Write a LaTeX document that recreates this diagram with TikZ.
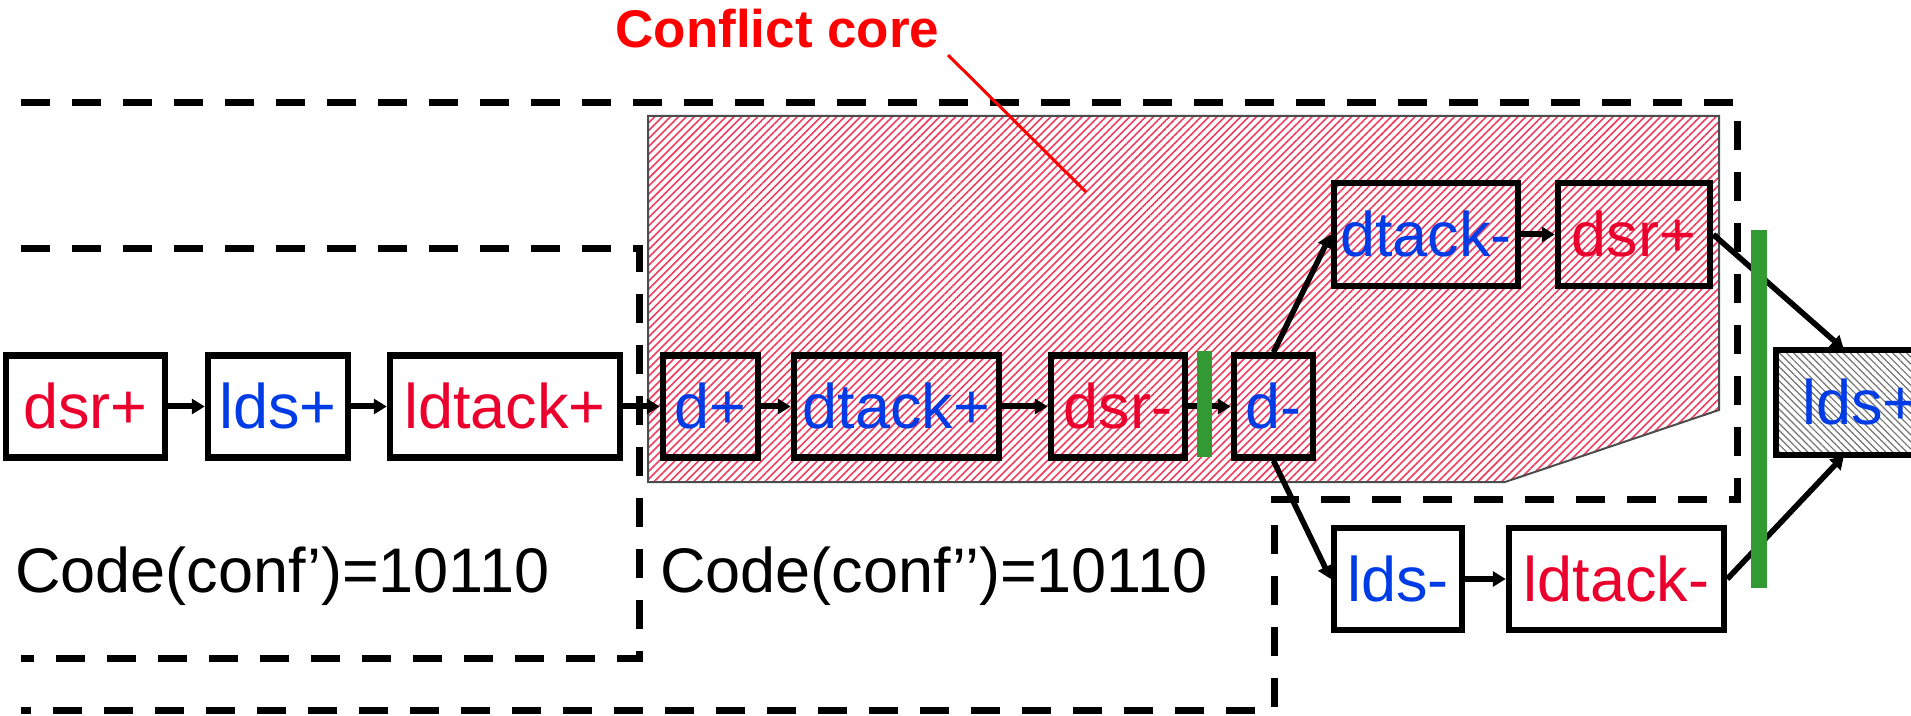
\documentclass[tikz,border=0pt]{standalone}
\usepackage{fontspec}
\setmainfont{Liberation Sans}
\usetikzlibrary{arrows.meta,patterns.meta,calc}
\definecolor{tred}{RGB}{235,0,45}
\definecolor{tblue}{RGB}{0,60,230}
\definecolor{hred}{RGB}{240,60,95}
\definecolor{gbar}{RGB}{51,153,51}
\begin{document}
\begin{tikzpicture}[x=0.5pt,y=-0.5pt,
  ev/.style={draw=black, line width=3.25pt, minimum height=51pt, inner sep=0pt,
    font=\fontsize{31.5}{36}\selectfont, text height=22.5pt, text depth=0pt},
  rt/.style={text=tred}, bt/.style={text=tblue},
  arr/.style={line width=3pt, -{Triangle[length=6.5pt,width=7.5pt]}},
  darr/.style={line width=2.8pt, -{Triangle[length=6.5pt,width=7.5pt]}},
  bound/.style={line width=3.5pt, dash pattern=on 14.5pt off 11pt},
  lbl/.style={font=\fontsize{31.5}{36}\selectfont, anchor=base west, inner sep=0pt},
  gbarst/.style={fill=gbar}
]
\useasboundingbox (0,0) rectangle (1911,716);
\clip (0,0) rectangle (1911,716);
% conflict core region
\draw[line width=1pt, draw=black!70, pattern={Lines[angle=45,distance=2.8pt,line width=0.8pt]}, pattern color=hred]
  (648,116) -- (1719,116) -- (1719,410) -- (1505,482) -- (648,482) -- cycle;
% dashed boundaries
\draw[bound] (21,103) -- (1737,103) -- (1737,499) -- (1274,499) -- (1274,710) -- (21,710);
\draw[bound] (21,249) -- (639,249) -- (639,658) -- (21,658);
% events
\node[ev,rt,minimum width=79.5pt,fill=white] (a1) at (85.5,406.5) {dsr+};
\node[ev,bt,minimum width=70pt,fill=white] (a2) at (278,406.5) {lds+};
\node[ev,rt,minimum width=115pt,fill=white] (a3) at (505,406.5) {ldtack+};
\node[ev,bt,minimum width=47.5pt] (a4) at (710.5,406.5) {d+};
\node[ev,bt,minimum width=102.5pt] (a5) at (896.5,406.5) {dtack+};
\node[ev,rt,minimum width=67pt] (a6) at (1118,406.5) {dsr-};
\node[ev,bt,minimum width=39.5pt] (a7) at (1273.5,406.5) {d-};
\node[ev,bt,minimum width=92pt,minimum height=51.5pt] (b1) at (1426,234.5) {dtack-};
\node[ev,rt,minimum width=76pt,minimum height=51.5pt] (b2) at (1634,234.5) {dsr+};
\node[ev,bt,minimum width=64pt,fill=white] (c1) at (1398,579) {lds-};
\node[ev,rt,minimum width=107.5pt,fill=white] (c2) at (1616.5,579) {ldtack-};
\node[ev,bt,minimum width=85pt,minimum height=52.5pt,preaction={fill=white},
  pattern={Lines[angle=-45,distance=2.5pt,line width=0.6pt]}, pattern color=black!55] (r) at (1861,402.5) {lds+};
% connectors
\draw[arr] (a1) -- (a2);
\draw[arr] (a2) -- (a3);
\draw[arr] (a3) -- (a4);
\draw[arr] (a4) -- (a5);
\draw[arr] (a5) -- (a6);
\draw[arr] (a6) -- (a7);
\draw[darr] (a7.north) -- (b1.west);
\draw[arr] (b1) -- (b2);
\draw[darr] (a7.south) -- (c1.west);
\draw[arr] (c1) -- (c2);
\draw[darr] (b2.east) -- ($(r.north west)!0.4!(r.north east)$);
\draw[darr] (c2.east) -- ($(r.south west)!0.4!(r.south east)$);
% green bars
\fill[gbarst] (1197,351) rectangle (1212,457);
\fill[gbarst] (1751,230) rectangle (1767,588);
% labels
\node[lbl] (code1) at (15,592) {Code(conf’)=10110};
\node[lbl] (code2) at (660,592) {Code(conf’’)=10110};
\node[font=\bfseries\fontsize{26.5}{30}\selectfont, text=red, anchor=base west, inner sep=0pt] (cc) at (615,48) {Conflict core};
\coordinate (ccs) at (948,55);
\coordinate (cce) at (1086,192);
\draw[red, line width=1.5pt] (ccs) -- (cce);
\end{tikzpicture}
\end{document}
